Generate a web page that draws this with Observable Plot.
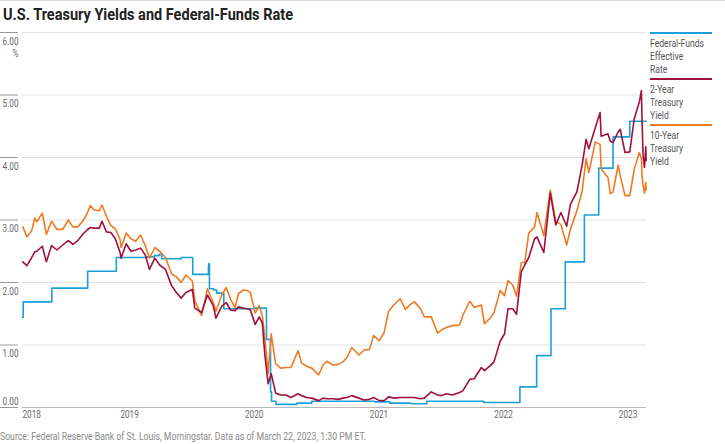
<!DOCTYPE html>
<html>
<head>
<meta charset="utf-8">
<script src="https://cdn.jsdelivr.net/npm/d3@7"></script>
<script src="https://cdn.jsdelivr.net/npm/@observablehq/plot@0.6"></script>
<style>
  html, body { margin: 0; padding: 0; background: #fff; }
  #wrap { position: relative; width: 725px; height: 444px; overflow: hidden;
    font-family: Roboto, "Liberation Sans", sans-serif; }
  #topline { position: absolute; left: 0; top: 0; width: 725px; height: 1px; background: #dcdcdc; }
  #title { position: absolute; left: 3px; top: 4px; font-size: 17px; font-weight: bold; color: #222; white-space: nowrap; line-height: 20px; }
  #chart { position: absolute; left: 0; top: 0; }
  #legend { position: absolute; left: 650px; top: 32px; width: 70px; }
  .lg-bar { height: 2px; width: 62px; }
  .lg-text { font-size: 11px; color: #555; line-height: 13px; margin: 2.5px 0; white-space: nowrap; }
  #source { position: absolute; left: 0; top: 430px; font-size: 10.5px; color: #8a8a8a; white-space: nowrap; line-height: 13px; }
  .fit { display: inline-block; transform-origin: 0 0; }
</style>
</head>
<body>
<div id="wrap">
  <div id="topline"></div>
  <div id="chart"></div>
  <div id="title"><span class="fit" id="titleText">U.S. Treasury Yields and Federal-Funds Rate</span></div>
  <div id="legend"></div>
  <div id="source"><span class="fit" id="sourceText">Source: Federal Reserve Bank of St. Louis, Morningstar. Data as of March 22, 2023, 1:30 PM ET.</span></div>
</div>
<script>
// ---- Data ----
const seriesNames = ["Federal-Funds Effective Rate", "2-Year Treasury Yield", "10-Year Treasury Yield"];
const seriesColors = ["#1aa0d7", "#9f113b", "#ee7b23"];

const ffDates = ["2018-03-20","2018-03-22","2018-06-14","2018-09-27","2018-12-20","2019-03-20","2019-04-10","2019-04-25","2019-05-02","2019-06-28","2019-08-01","2019-09-16","2019-09-17","2019-09-19","2019-10-01","2019-10-10","2019-10-31","2020-01-30","2020-03-04","2020-03-16","2020-03-19","2020-04-01","2020-06-01","2020-07-15","2021-01-15","2021-03-01","2021-05-01","2021-06-17","2021-12-01","2022-03-17","2022-05-05","2022-06-16","2022-07-28","2022-09-22","2022-11-03","2022-12-15","2023-02-02","2023-03-22"];
const ffRates = [1.44,1.69,1.91,2.18,2.40,2.41,2.43,2.45,2.38,2.40,2.13,2.25,2.30,1.90,1.88,1.83,1.58,1.59,1.09,0.25,0.10,0.05,0.07,0.10,0.09,0.07,0.06,0.10,0.08,0.33,0.83,1.58,2.33,3.08,3.83,4.33,4.58,4.58];

const yieldDates = ["2018-03-21","2018-04-02","2018-04-16","2018-04-25","2018-05-01","2018-05-17","2018-05-29","2018-06-13","2018-06-29","2018-07-16","2018-08-01","2018-08-15","2018-08-29","2018-09-14","2018-09-25","2018-10-05","2018-10-16","2018-10-31","2018-11-08","2018-11-21","2018-12-04","2018-12-17","2018-12-31",
"2019-01-03","2019-01-18","2019-02-01","2019-02-15","2019-03-01","2019-03-15","2019-03-27","2019-04-12","2019-04-26","2019-05-13","2019-05-31","2019-06-14","2019-06-28","2019-07-12","2019-07-31","2019-08-07","2019-08-27","2019-09-13","2019-09-30","2019-10-08","2019-10-25","2019-11-07","2019-11-20","2019-12-03","2019-12-13","2019-12-27",
"2020-01-08","2020-01-17","2020-01-31","2020-02-12","2020-02-21","2020-02-28","2020-03-09","2020-03-18","2020-03-31","2020-04-15","2020-04-30","2020-05-15","2020-06-05","2020-06-15","2020-06-30","2020-07-15","2020-08-04","2020-08-17","2020-08-28","2020-09-15","2020-09-30","2020-10-14","2020-10-26","2020-11-09","2020-11-30","2020-12-15","2020-12-31",
"2021-01-12","2021-01-29","2021-02-12","2021-02-25","2021-03-12","2021-03-31","2021-04-15","2021-04-30","2021-05-12","2021-05-28","2021-06-10","2021-06-30","2021-07-19","2021-07-30","2021-08-13","2021-08-31","2021-09-21","2021-10-01","2021-10-21","2021-11-03","2021-11-24","2021-12-03","2021-12-20","2021-12-31",
"2022-01-18","2022-01-31","2022-02-10","2022-02-24","2022-03-07","2022-03-21","2022-03-31","2022-04-12","2022-04-29","2022-05-06","2022-05-26","2022-06-14","2022-06-30","2022-07-15","2022-08-01","2022-08-12","2022-08-31","2022-09-15","2022-09-27","2022-10-05","2022-10-24","2022-11-07","2022-11-10","2022-11-30","2022-12-07","2022-12-15","2022-12-30",
"2023-01-05","2023-01-19","2023-02-02","2023-02-15","2023-03-02","2023-03-08","2023-03-10","2023-03-13","2023-03-17","2023-03-21","2023-03-22"];

const tenYear = [2.89,2.73,2.83,3.03,2.97,3.11,2.77,2.98,2.85,2.85,3.00,2.89,2.89,2.99,3.10,3.23,3.16,3.15,3.24,3.06,2.91,2.86,2.69,
2.56,2.79,2.70,2.66,2.76,2.59,2.39,2.56,2.50,2.40,2.14,2.09,2.00,2.12,2.02,1.71,1.47,1.90,1.68,1.54,1.80,1.92,1.73,1.60,1.82,1.88,
1.87,1.84,1.51,1.63,1.47,1.13,0.54,1.18,0.70,0.63,0.64,0.64,0.91,0.71,0.66,0.63,0.52,0.68,0.74,0.68,0.69,0.73,0.80,0.96,0.84,0.92,0.93,
1.15,1.07,1.20,1.54,1.64,1.74,1.57,1.65,1.69,1.59,1.45,1.45,1.19,1.24,1.28,1.31,1.32,1.48,1.70,1.60,1.64,1.34,1.43,1.52,
1.87,1.79,2.03,1.96,1.78,2.32,2.32,2.79,2.89,3.12,2.75,3.48,2.98,2.93,2.60,2.85,3.15,3.45,3.98,3.76,4.25,4.21,3.82,3.68,3.42,3.45,3.88,
3.71,3.39,3.39,3.81,4.08,3.98,3.70,3.55,3.43,3.60,3.48];

const twoYear = [2.33,2.27,2.40,2.49,2.50,2.58,2.33,2.59,2.52,2.60,2.67,2.61,2.67,2.78,2.84,2.88,2.87,2.87,2.98,2.81,2.80,2.70,2.48,
2.39,2.62,2.50,2.52,2.55,2.44,2.21,2.39,2.28,2.21,1.95,1.84,1.75,1.84,1.89,1.59,1.52,1.80,1.63,1.43,1.62,1.68,1.56,1.55,1.61,1.59,
1.58,1.56,1.33,1.45,1.35,0.86,0.38,0.54,0.23,0.20,0.20,0.16,0.22,0.19,0.16,0.15,0.11,0.15,0.14,0.14,0.13,0.15,0.16,0.19,0.15,0.12,0.13,
0.16,0.11,0.11,0.17,0.15,0.16,0.16,0.16,0.16,0.14,0.15,0.25,0.20,0.19,0.22,0.20,0.24,0.27,0.45,0.46,0.64,0.59,0.67,0.73,
1.06,1.18,1.58,1.58,1.49,2.17,2.28,2.40,2.70,2.73,2.48,3.43,2.92,3.12,2.90,3.25,3.45,3.87,4.29,4.14,4.48,4.72,4.34,4.38,4.26,4.24,4.41,
4.45,4.08,4.09,4.62,4.89,5.07,4.60,4.03,3.84,4.17,3.95];

const yTicks = [0, 1, 2, 3, 4, 5, 6];
const yLabelsBelow = [1, 2, 3, 4, 5, 6];
const yLabelsAbove = [0];
const xDomain = ["2018-03-20", "2023-03-23"];
const xTickDates = ["2018-03-20", "2019-01-01", "2020-01-01", "2021-01-01", "2022-01-01", "2023-01-01"];
const legendLines = [["Federal-Funds", "Effective", "Rate"], ["2-Year", "Treasury", "Yield"], ["10-Year", "Treasury", "Yield"]];

// ---- Build tables ----
const ff = ffDates.map((d, i) => ({date: new Date(d), value: ffRates[i]}));
const y2 = yieldDates.map((d, i) => ({date: new Date(d), value: twoYear[i]}));
const y10 = yieldDates.map((d, i) => ({date: new Date(d), value: tenYear[i]}));

const fontFamily = 'Roboto, "Liberation Sans", sans-serif';
const labelColor = "#6a6a6a";

const chart = Plot.plot({
  width: 725,
  height: 444,
  marginLeft: 22,
  marginRight: 79,
  marginTop: 32,
  marginBottom: 37,
  style: {fontFamily, fontSize: "10.5px", color: "#666", background: "transparent", overflow: "visible"},
  x: {type: "utc", domain: xDomain.map(d => new Date(d))},
  y: {domain: [0, 6]},
  marks: [
    Plot.ruleY(yTicks, {stroke: "#e2e2e2", strokeWidth: 1}),
    Plot.ruleY([0], {stroke: "#b8b8b8", strokeWidth: 1}),
    Plot.axisY({ticks: yTicks, tickSize: 18, dx: -4, tickFormat: () => "", stroke: "#999", strokeOpacity: 1, label: null}),
    Plot.axisY({ticks: yLabelsBelow, tickSize: 0, tickPadding: 4, dy: 9, tickFormat: d3.format(".2f"), fill: labelColor, label: null}),
    Plot.axisY({ticks: yLabelsAbove, tickSize: 0, tickPadding: 4, dy: -6, tickFormat: d3.format(".2f"), fill: labelColor, label: null}),
    Plot.text([6], {y: d => d, text: () => "%", frameAnchor: "left", textAnchor: "end", dx: -4, dy: 21, fill: labelColor}),
    Plot.axisX({ticks: xTickDates.map(d => new Date(d)), tickSize: 0, tickPadding: 3, textAnchor: "start", tickFormat: d3.utcFormat("%Y"), fill: labelColor, label: null}),
    Plot.line(ff, {x: "date", y: "value", curve: "step-after", stroke: seriesColors[0], strokeWidth: 1.6}),
    Plot.line(y10, {x: "date", y: "value", stroke: seriesColors[2], strokeWidth: 1.6}),
    Plot.line(y2, {x: "date", y: "value", stroke: seriesColors[1], strokeWidth: 1.6})
  ]
});
document.getElementById("chart").appendChild(chart);

// Condense SVG text glyphs (the reference uses a condensed face)
chart.querySelectorAll("text").forEach(t => {
  const w = t.getComputedTextLength();
  if (w > 0) {
    t.setAttribute("textLength", (w * 0.78).toFixed(2));
    t.setAttribute("lengthAdjust", "spacingAndGlyphs");
  }
});

// ---- Legend ----
const legend = document.getElementById("legend");
const legendSpans = [];
seriesNames.forEach((name, i) => {
  const bar = document.createElement("div");
  bar.className = "lg-bar";
  bar.style.background = seriesColors[i];
  legend.appendChild(bar);
  const t = document.createElement("div");
  t.className = "lg-text";
  legendLines[i].forEach(line => {
    const row = document.createElement("div");
    const s = document.createElement("span");
    s.className = "fit";
    s.textContent = line;
    row.appendChild(s);
    t.appendChild(row);
    legendSpans.push(s);
  });
  legend.appendChild(t);
});

// Fit HTML text widths to the condensed reference face
function fitTo(el, target) {
  const w = el.getBoundingClientRect().width;
  if (w > 0) el.style.transform = `scaleX(${target / w})`;
}
fitTo(document.getElementById("titleText"), 290);
fitTo(document.getElementById("sourceText"), 366);
const ffw = legendSpans[0].getBoundingClientRect().width;
const lf = 54 / ffw;
legendSpans.forEach(s => s.style.transform = `scaleX(${lf})`);
</script>
</body>
</html>
